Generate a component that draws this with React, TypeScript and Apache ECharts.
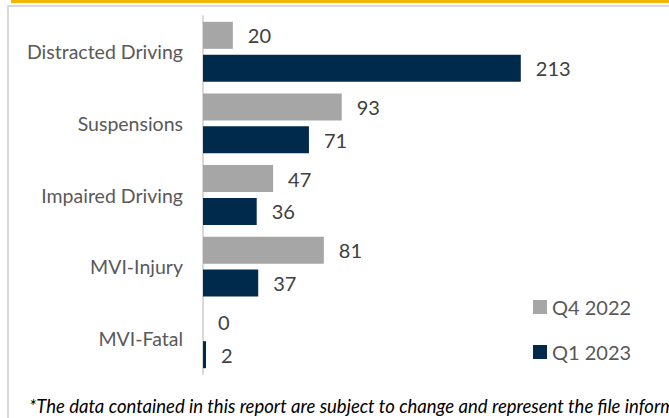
import React, { useEffect, useRef } from "react";
import * as echarts from "echarts";

const categories = ["Distracted Driving", "Suspensions", "Impaired Driving", "MVI-Injury", "MVI-Fatal"];
const q4_2022 = [20, 93, 47, 81, 0];
const q1_2023 = [213, 71, 36, 37, 2];
const seriesNames = ["Q4 2022", "Q1 2023"];
const footnote = "*The data contained in this report are subject to change and represent the file information";

export default function App() {
  const ref = useRef<HTMLDivElement>(null);
  useEffect(() => {
    document.body.style.margin = "0";
    const chart = echarts.init(ref.current!, null, { renderer: "svg" });
    const font = "Lato, 'Open Sans', sans-serif";
    chart.setOption({
      animation: false,
      backgroundColor: "#ffffff",
      grid: { left: 203, top: 16, bottom: 44, width: 373, containLabel: false },
      xAxis: {
        type: "value",
        min: 0,
        max: 250,
        show: false,
      },
      yAxis: {
        type: "category",
        data: categories,
        inverse: true,
        axisLine: { show: true, lineStyle: { color: "#D9D9D9", width: 2 } },
        axisTick: { show: false },
        axisLabel: { color: "#595959", fontSize: 19.5, fontFamily: font, margin: 20 },
      },
      legend: {
        orient: "vertical",
        left: 528,
        top: 292,
        itemWidth: 14,
        itemHeight: 14,
        itemGap: 25,
        icon: "rect",
        textStyle: { color: "#595959", fontSize: 20, fontFamily: font },
        data: seriesNames,
      },
      series: [
        {
          name: seriesNames[0],
          type: "bar",
          data: q4_2022,
          barWidth: 27,
          barGap: "22%",
          itemStyle: { color: "#A6A6A6" },
          label: { show: true, position: "right", distance: 15, color: "#404040", fontSize: 20, fontFamily: font },
        },
        {
          name: seriesNames[1],
          type: "bar",
          data: q1_2023,
          barWidth: 27,
          barGap: "22%",
          itemStyle: { color: "#002A4C" },
          label: { show: true, position: "right", distance: 15, color: "#404040", fontSize: 20, fontFamily: font },
        },
      ],
      graphic: [
        { type: "rect", shape: { x: 11, y: 0, width: 660, height: 3 }, style: { fill: "#F2B705" }, silent: true },
        { type: "rect", shape: { x: 7, y: 5, width: 662, height: 2 }, style: { fill: "#D9D9D9" }, silent: true },
        { type: "rect", shape: { x: 7, y: 5, width: 2, height: 413 }, style: { fill: "#D9D9D9" }, silent: true },
        {
          type: "text",
          x: 29,
          y: 406,
          style: {
            text: footnote,
            fill: "#000000",
            fontSize: 18.5,
            fontStyle: "italic",
            fontFamily: font,
            verticalAlign: "middle",
          },
          silent: true,
        },
      ],
    });
    return () => chart.dispose();
  }, []);
  return <div ref={ref} style={{ width: 669, height: 418, overflow: "hidden" }} />;
}
